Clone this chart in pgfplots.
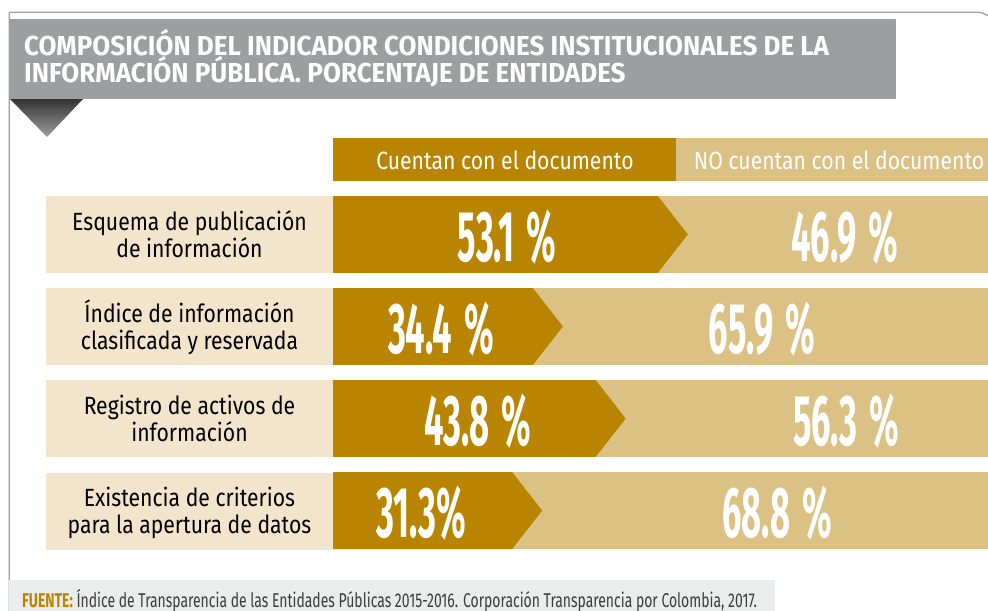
\documentclass[border=0pt]{standalone}
\usepackage{fontspec}
\usepackage{pgfplots}
\pgfplotsset{compat=1.18}
\setmainfont{Fira Sans}
\newfontfamily\titlefont[FakeStretch=0.95]{Fira Sans}
\newfontfamily\labfont[FakeStretch=0.85]{Fira Sans}
\newfontfamily\numfont[FakeStretch=0.48]{Fira Sans}
\newfontfamily\footfont[FakeStretch=0.70]{Fira Sans}
\definecolor{gdark}{RGB}{185,133,0}
\definecolor{glight}{RGB}{219,194,132}
\definecolor{beige}{RGB}{242,229,204}
\definecolor{tgray}{RGB}{157,158,160}
\definecolor{fgray}{RGB}{235,237,236}
\definecolor{framec}{RGB}{160,160,160}
\definecolor{ftext}{RGB}{60,60,60}
\tikzset{numlab/.style={anchor=base, inner sep=0, text=white, font=\numfont\bfseries\fontsize{72}{80}\selectfont}}
\begin{document}
\begin{tikzpicture}
\useasboundingbox (0,0) rectangle (988bp,-611bp);
\clip (0,0) rectangle (988bp,-611bp);
\begin{scope}[x=1bp,y=-1bp]
\draw[framec, line width=1.3bp] (9.3,615) -- (9.3,12.3) -- (975,12.3) .. controls (982,12.3) .. (992,18);
\fill[tgray] (10,19) rectangle (896,99);
\shade[top color=black!80, bottom color=black!38] (10,99) -- (83,99) -- (47,137) -- cycle;
\node[anchor=base west, inner sep=0, text=white, font=\titlefont\bfseries\fontsize{27.5}{30}\selectfont] at (24,55) {COMPOSICIÓN DEL INDICADOR CONDICIONES INSTITUCIONALES DE LA};
\node[anchor=base west, inner sep=0, text=white, font=\titlefont\bfseries\fontsize{27.5}{30}\selectfont] at (24,82) {INFORMACIÓN PÚBLICA. PORCENTAJE DE ENTIDADES};
\fill[gdark] (333,138) rectangle (676,181);
\fill[glight] (676,138) rectangle (990,181);
\node[anchor=base, inner sep=0, text=white, font=\labfont\fontsize{25}{28}\selectfont] at (505,169) {Cuentan con el documento};
\node[anchor=base, inner sep=0, text=white, font=\labfont\fontsize{25}{28}\selectfont] at (839,169) {NO cuentan con el documento};
\foreach \t/\a/\b in {196/Esquema de publicación/de información, 288.2/Índice de información/clasificada y reservada, 380.4/Registro de activos de/información, 472.6/Existencia de criterios/para la apertura de datos}{
  \fill[beige] (46,\t) rectangle (333,\t+77);
  \node[anchor=base, inner sep=0, font=\labfont\fontsize{25}{28}\selectfont] at (189.5,\t+34) {\a};
  \node[anchor=base, inner sep=0, font=\labfont\fontsize{25}{28}\selectfont] at (189.5,\t+61) {\b};
}
\fill[fgray] (9.3,580) rectangle (775,615);
\node[anchor=base west, inner sep=0, text=ftext, font=\footfont\fontsize{20}{22}\selectfont] at (22,607) {\textcolor{gdark}{\bfseries FUENTE:} Índice de Transparencia de las Entidades Públicas 2015-2016. Corporación Transparencia por Colombia, 2017.};
\end{scope}
\begin{axis}[at={(660.5bp,-372.5bp)}, anchor=center, width=655bp, height=353bp, scale only axis,
  xmin=0, xmax=98.01, ymin=-0.4175, ymax=3.4175, y dir=reverse, hide axis, clip=true]
% NO cuentan (light)
\addplot[fill=glight, draw=none] coordinates {(0,-0.4175) (100,-0.4175) (100,0.4175) (0,0.4175)} -- cycle;
\addplot[fill=glight, draw=none] coordinates {(0,0.5825) (100.3,0.5825) (100.3,1.4175) (0,1.4175)} -- cycle;
\addplot[fill=glight, draw=none] coordinates {(0,1.5825) (100.1,1.5825) (100.1,2.4175) (0,2.4175)} -- cycle;
\addplot[fill=glight, draw=none] coordinates {(0,2.5825) (100.1,2.5825) (100.1,3.4175) (0,3.4175)} -- cycle;
% Cuentan (dark arrows)
\addplot[fill=gdark, draw=none] coordinates {(0,-0.4175) (48.61,-0.4175) (53.1,0) (48.61,0.4175) (0,0.4175)} -- cycle;
\addplot[fill=gdark, draw=none] coordinates {(0,0.5825) (29.91,0.5825) (34.4,1) (29.91,1.4175) (0,1.4175)} -- cycle;
\addplot[fill=gdark, draw=none] coordinates {(0,1.5825) (39.31,1.5825) (43.8,2) (39.31,2.4175) (0,2.4175)} -- cycle;
\addplot[fill=gdark, draw=none] coordinates {(0,2.5825) (26.81,2.5825) (31.3,3) (26.81,3.4175) (0,3.4175)} -- cycle;
\node[numlab] at (axis cs:26.04,0.292) {53.1\,\%};
\node[numlab] at (axis cs:76.61,0.292) {46.9\,\%};
\node[numlab] at (axis cs:16.16,1.292) {34.4\,\%};
\node[numlab] at (axis cs:64.19,1.292) {65.9\,\%};
\node[numlab] at (axis cs:21.70,2.292) {43.8\,\%};
\node[numlab] at (axis cs:76.76,2.292) {56.3\,\%};
\node[numlab] at (axis cs:13.17,3.292) {31.3\%};
\node[numlab] at (axis cs:66.44,3.292) {68.8\,\%};
\end{axis}
\end{tikzpicture}
\end{document}
